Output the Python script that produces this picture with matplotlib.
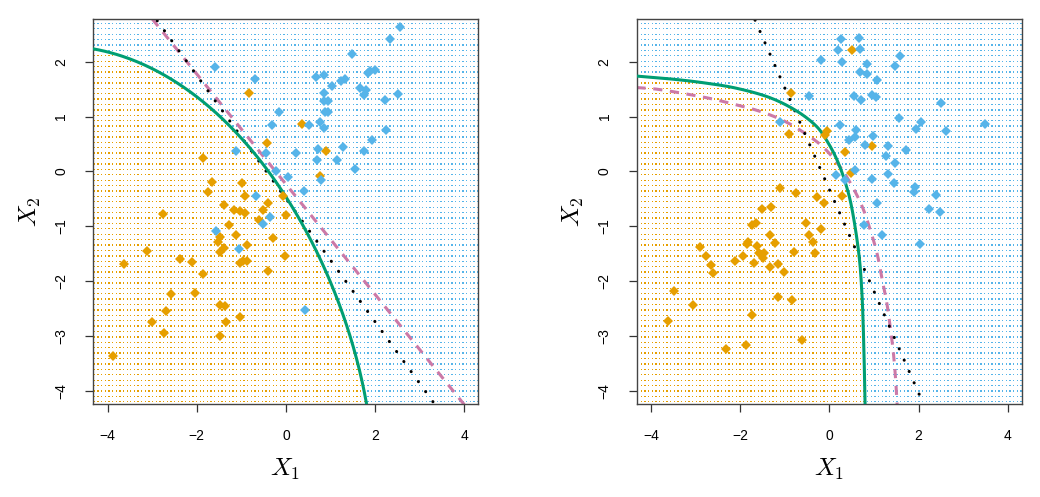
import numpy as np
import matplotlib
matplotlib.use("Agg")
import matplotlib.pyplot as plt

# ---------------- data ----------------
left_blue_x = [2.56, 2.34, 1.49, -1.59, -0.69, 0.67, 0.85, 1.24, 1.33, 1.89, 1.99, 1.85, 1.03, 1.66, 1.79, 1.76,
               2.52, 0.85, 0.85, 0.94, 0.88, 0.95, 2.22, -0.16, -0.31, 0.52, 0.76, 0.86, 2.24, 1.94, 1.28, 0.73,
               0.22, 1.76, -1.11, -0.45, 0.70, 1.14, 1.55, -0.23, 0.04, 0.78, 0.40, -0.67, -0.36, -0.52, -1.58,
               -1.06, 0.43]
left_blue_y = [2.64, 2.41, 2.14, 1.90, 1.68, 1.72, 1.75, 1.65, 1.69, 1.84, 1.85, 1.79, 1.55, 1.52, 1.48, 1.40,
               1.41, 1.43, 1.28, 1.29, 1.09, 1.08, 1.30, 1.08, 0.84, 0.85, 0.91, 0.80, 0.75, 0.57, 0.44, 0.41,
               0.33, 0.38, 0.38, 0.33, 0.21, 0.20, 0.04, 0.01, -0.10, -0.16, -0.35, -0.44, -0.83, -0.96, -1.08,
               -1.41, -2.52]
left_orange_x = [-0.82, 0.37, -0.42, 0.90, 0.77, -1.86, -1.67, -1.76, -0.98, -0.92, -1.40, -1.17, -1.03, -0.91,
                 -0.52, -0.40, -0.60, -0.06, 0.00, -2.77, -1.28, -1.12, -1.47, -1.53, -1.38, -1.49, -0.88, -0.28,
                 -3.12, -3.63, -2.37, -2.10, -1.04, -0.96, -0.88, -0.03, -1.86, -0.40, -2.59, -2.04, -1.48, -1.36,
                 -2.70, -3.00, -1.03, -1.34, -2.74, -1.48, -3.87]
left_orange_y = [1.43, 0.87, 0.51, 0.38, -0.08, 0.24, -0.20, -0.37, -0.21, -0.44, -0.62, -0.70, -0.72, -0.76,
                 -0.71, -0.57, -0.88, -0.44, -0.79, -0.77, -0.98, -1.15, -1.19, -1.29, -1.40, -1.47, -1.34, -1.22,
                 -1.45, -1.69, -1.60, -1.65, -1.66, -1.64, -1.63, -1.54, -1.87, -1.81, -2.24, -2.21, -2.44, -2.45,
                 -2.54, -2.75, -2.66, -2.74, -2.95, -3.00, -3.36]

right_blue_x = [0.25, 0.67, 0.20, 0.69, 1.59, -0.18, 0.29, 0.84, 1.47, 0.69, 0.85, 1.06, -0.46, 0.55, 0.71, 0.96,
                1.05, 2.50, 1.56, 2.06, 1.94, 2.61, 3.48, -1.12, 0.24, 0.60, 0.58, 0.43, 0.98, 0.79, 1.32, 1.71,
                1.28, 1.48, 0.58, 0.15, 0.34, 0.95, 1.32, 1.45, 1.91, 1.89, 2.40, 1.06, 2.24, 2.48, 0.78, 1.17,
                2.03]
right_blue_y = [2.41, 2.43, 2.21, 2.23, 2.11, 2.04, 1.99, 1.96, 1.93, 1.82, 1.77, 1.67, 1.37, 1.37, 1.30, 1.40,
                1.35, 1.24, 0.98, 0.91, 0.78, 0.73, 0.86, 0.90, 0.84, 0.76, 0.63, 0.57, 0.65, 0.48, 0.46, 0.40,
                0.29, 0.16, 0.03, -0.07, -0.16, -0.13, -0.05, -0.21, -0.29, -0.38, -0.43, -0.57, -0.69, -0.74,
                -0.97, -1.15, -1.33]
right_orange_x = [0.51, -0.86, -0.90, -0.10, -0.05, 0.36, 0.95, 0.49, 0.28, -1.12, -0.76, -0.28, -0.13, -1.52,
                  -1.32, -0.52, -0.19, -1.74, -1.65, -1.34, -0.47, -1.22, -0.37, -2.90, -1.86, -1.62, -1.83, -0.79,
                  -0.33, -2.76, -1.95, -2.11, -1.57, -1.46, -1.50, -1.69, -1.33, -1.15, -2.65, -2.62, -1.02, -3.48,
                  -1.16, -0.85, -3.06, -1.73, -3.63, -0.62, -1.88, -2.33]
right_orange_y = [2.22, 1.43, 0.68, 0.67, 0.74, 0.35, 0.46, -0.03, -0.44, -0.30, -0.39, -0.46, -0.57, -0.68,
                  -0.64, -0.94, -1.05, -0.97, -0.94, -1.15, -1.16, -1.30, -1.28, -1.37, -1.32, -1.35, -1.28, -1.46,
                  -1.49, -1.55, -1.55, -1.63, -1.49, -1.49, -1.58, -1.67, -1.74, -1.69, -1.71, -1.86, -1.84, -2.18,
                  -2.29, -2.35, -2.43, -2.61, -2.73, -3.07, -3.17, -3.24]

# decision boundaries
left_qda_x = [-4.34, -3.59, -2.84, -2.16, -2.09, -1.34, -1.03, -0.59, -0.43, 0.04, 0.09, 0.18, 0.55, 0.54,
              0.93, 0.99, 1.26, 1.36, 1.53, 1.69, 1.80]
left_qda_y = [2.24, 2.08, 1.77, 1.57, 1.35, 0.83, 0.72, 0.16, -0.01, -0.45, -0.56, -0.71, -1.32, -1.11,
              -1.93, -2.02, -2.54, -2.94, -3.15, -3.64, -4.28]
left_bayes_x = [-3.00, 4.00]
left_bayes_y = [2.78, -4.25]
left_lda_x = [-2.89, 3.30]
left_lda_y = [2.75, -4.20]

right_qda_x = [-4.34, -3.60, -2.85, -2.10, -1.35, -0.75, -0.30, -0.05, 0.17, 0.36, 0.51, 0.66, 0.73, 0.77, 0.80]
right_qda_y = [1.74, 1.69, 1.62, 1.52, 1.35, 1.11, 0.83, 0.55, 0.21, -0.21, -0.70, -1.50, -2.24, -3.15, -4.26]
right_bayes_x = [-4.33, -3.78, -2.73, -2.17, -1.65, -1.12, -0.67, -0.19, 0.17, 0.47, 0.73, 0.91, 1.07, 1.18,
                 1.28, 1.36, 1.43, 1.48, 1.52]
right_bayes_y = [1.53, 1.49, 1.34, 1.23, 1.12, 0.96, 0.76, 0.48, 0.16, -0.21, -0.63, -1.05, -1.50, -1.96,
                 -2.36, -2.81, -3.27, -3.73, -4.26]
right_lda_x = [-1.67, 2.12]
right_lda_y = [2.76, -4.26]

x_ticks = [-4, -2, 0, 2, 4]
y_ticks = [-4, -3, -2, -1, 0, 1, 2]

ORANGE = "#E69F00"
BLUE = "#56B4E9"
GREEN = "#009E73"
PURPLE = "#CC79A7"

plt.rcParams['font.family'] = ['Liberation Sans', 'DejaVu Sans']
plt.rcParams['mathtext.fontset'] = 'cm'

fig = plt.figure(figsize=(10.40, 4.97), dpi=100)
ax_l = fig.add_axes([93 / 1040, 93 / 497, 385 / 1040, 385 / 497])
ax_r = fig.add_axes([636.5 / 1040, 93 / 497, 385 / 1040, 385 / 497])

gx = np.linspace(-4.3, 4.3, 106)
gy = np.linspace(-4.2, 2.7, 71)
GX, GY = np.meshgrid(gx, gy)


def smooth(xs, ys, n=20):
    """Catmull-Rom curve through the read points (for drawing only)."""
    p = np.column_stack([xs, ys]).astype(float)
    p = np.vstack([2 * p[0] - p[1], p, 2 * p[-1] - p[-2]])
    out = []
    t = np.linspace(0, 1, n, endpoint=False)[:, None]
    for i in range(1, len(p) - 2):
        p0, p1, p2, p3 = p[i - 1], p[i], p[i + 1], p[i + 2]
        seg = 0.5 * ((2 * p1) + (-p0 + p2) * t + (2 * p0 - 5 * p1 + 4 * p2 - p3) * t ** 2
                     + (-p0 + 3 * p1 - 3 * p2 + p3) * t ** 3)
        out.append(seg)
    out.append(p[-2][None, :])
    out = np.vstack(out)
    return out[:, 0], out[:, 1]


def polar_fit(xs, ys, center=(-4.5, -4.5), deg=4, n=300):
    """Least-squares smooth of a noisy read arc, in polar coords about a centre."""
    x = np.asarray(xs) - center[0]
    y = np.asarray(ys) - center[1]
    th = np.arctan2(y, x)
    r = np.hypot(x, y)
    c = np.polyfit(th, r, deg)
    tt = np.linspace(th.max(), th.min(), n)
    rr = np.polyval(c, tt)
    return center[0] + rr * np.cos(tt), center[1] + rr * np.sin(tt)


def panel(ax, bx, by, ox, oy, qcurve, bax, bay, lx, ly):
    sqx, sqy = qcurve
    order = np.argsort(sqy)
    xb = np.interp(GY.ravel(), sqy[order], sqx[order], left=np.inf, right=-np.inf)
    is_orange = GX.ravel() < xb
    cols = np.where(is_orange, ORANGE, BLUE)
    ax.scatter(GX.ravel(), GY.ravel(), s=0.9, marker='s', c=cols, linewidths=0, zorder=1)

    sbx, sby = smooth(bax, bay) if len(bax) > 2 else (bax, bay)
    ax.plot(sbx, sby, color=PURPLE, lw=2.2, linestyle=(0, (3.0, 2.5)), zorder=2)
    ax.plot(lx, ly, color='black', lw=2.2, linestyle=(0, (0.05, 4.0)), dash_capstyle='round', zorder=2)
    ax.plot(sqx, sqy, color=GREEN, lw=2.2, zorder=3, solid_capstyle='butt')

    ax.plot(ox, oy, linestyle='none', marker='D', ms=5.3, mew=0, color=ORANGE, zorder=4)
    ax.plot(bx, by, linestyle='none', marker='D', ms=5.3, mew=0, color=BLUE, zorder=4)

    ax.set_xlim(-4.33, 4.31)
    ax.set_ylim(-4.24, 2.78)
    ax.set_xticks(x_ticks)
    ax.set_yticks(y_ticks)
    ax.set_xticklabels([f"\u2212{abs(t)}" if t < 0 else str(t) for t in x_ticks])
    ax.set_yticklabels([f"\u2212{abs(t)}" if t < 0 else str(t) for t in y_ticks], rotation=90, va='center')
    ax.tick_params(direction='out', length=6, width=0.9, color='#333333', labelsize=10, pad=12)
    for s in ax.spines.values():
        s.set_color('#444444')
        s.set_linewidth(1.0)
    ax.set_xlabel(r"$X_1$", fontsize=18, labelpad=10)
    ax.set_ylabel(r"$X_2$", fontsize=18, labelpad=8)


panel(ax_l, left_blue_x, left_blue_y, left_orange_x, left_orange_y,
      polar_fit(left_qda_x, left_qda_y), left_bayes_x, left_bayes_y, left_lda_x, left_lda_y)
panel(ax_r, right_blue_x, right_blue_y, right_orange_x, right_orange_y,
      smooth(right_qda_x, right_qda_y), right_bayes_x, right_bayes_y, right_lda_x, right_lda_y)

fig.savefig("out.png", dpi=100)
